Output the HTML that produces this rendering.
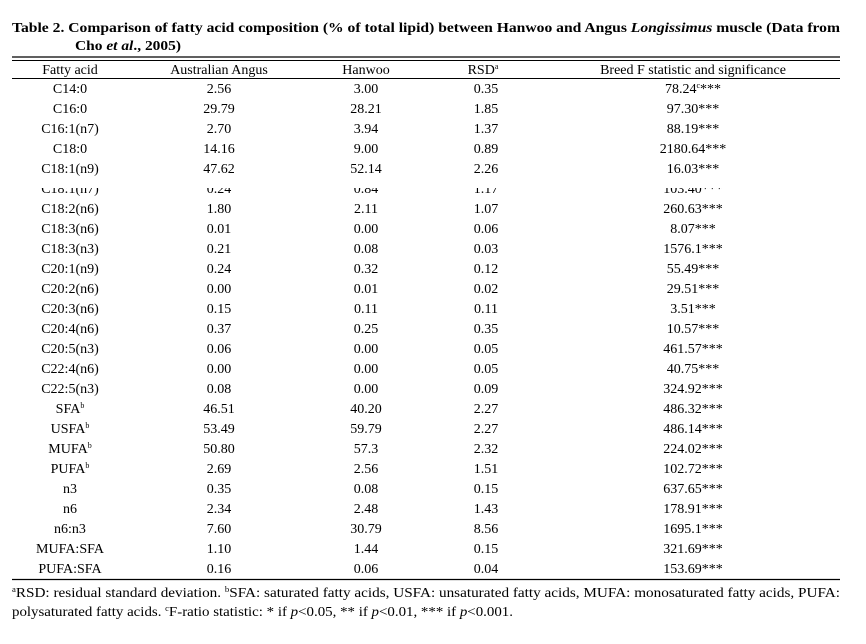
<!DOCTYPE html>
<html><head><meta charset="utf-8"><style>
body{margin:0;background:#fff;}
svg{display:block;font-family:"Liberation Serif",serif;}
</style></head><body>
<svg width="866" height="644" viewBox="0 0 866 644">
<g font-weight="bold" font-size="14">
<text x="12" y="32" textLength="828" lengthAdjust="spacingAndGlyphs">Table  2.  Comparison of fatty acid composition (% of total lipid) between Hanwoo and Angus <tspan font-style="italic">Longissimus</tspan> muscle (Data from</text>
<text x="75" y="50" textLength="106" lengthAdjust="spacingAndGlyphs">Cho <tspan font-style="italic">et al</tspan>., 2005)</text>
</g>
<g stroke="#000">
<line x1="12" x2="840" y1="57" y2="57" stroke-width="1.3"/>
<line x1="12" x2="840" y1="60.5" y2="60.5" stroke-width="1"/>
<line x1="12" x2="840" y1="78.5" y2="78.5" stroke-width="1"/>
<line x1="12" x2="840" y1="579.5" y2="579.5" stroke-width="1.3"/>
</g>
<g id="hdr" font-size="14" text-anchor="middle">
<text x="70" y="74">Fatty acid</text>
<text x="219" y="74">Australian Angus</text>
<text x="366" y="74">Hanwoo</text>
<text x="483" y="74">RSD<tspan font-size="8" dy="-5">a</tspan></text>
<text x="693" y="74">Breed F statistic and significance</text>
</g>
<g id="body" font-size="14" text-anchor="middle"></g>
<rect x="0" y="178" width="866" height="10" fill="#fff"/>
<g font-size="14">
<text x="12" y="597" textLength="828" lengthAdjust="spacingAndGlyphs"><tspan font-size="8" dy="-5">a</tspan><tspan dy="5">RSD: residual standard deviation. </tspan><tspan font-size="8" dy="-5">b</tspan><tspan dy="5">SFA: saturated fatty acids, USFA: unsaturated fatty acids, MUFA: monosaturated fatty acids, PUFA:</tspan></text>
<text x="12" y="616" textLength="501" lengthAdjust="spacingAndGlyphs">polysaturated fatty acids. <tspan font-size="8" dy="-5">c</tspan><tspan dy="5">F-ratio statistic: * if </tspan><tspan font-style="italic">p</tspan>&lt;0.05, ** if <tspan font-style="italic">p</tspan>&lt;0.01, *** if <tspan font-style="italic">p</tspan>&lt;0.001.</text>
</g>
</svg>
<script>
const acids=["C14:0","C16:0","C16:1(n7)","C18:0","C18:1(n9)","C18:1(n7)","C18:2(n6)","C18:3(n6)","C18:3(n3)","C20:1(n9)","C20:2(n6)","C20:3(n6)","C20:4(n6)","C20:5(n3)","C22:4(n6)","C22:5(n3)","SFA","USFA","MUFA","PUFA","n3","n6","n6:n3","MUFA:SFA","PUFA:SFA"];
const supB=[16,17,18,19];
const angus=["2.56","29.79","2.70","14.16","47.62","0.24","1.80","0.01","0.21","0.24","0.00","0.15","0.37","0.06","0.00","0.08","46.51","53.49","50.80","2.69","0.35","2.34","7.60","1.10","0.16"];
const hanwoo=["3.00","28.21","3.94","9.00","52.14","0.84","2.11","0.00","0.08","0.32","0.01","0.11","0.25","0.00","0.00","0.00","40.20","59.79","57.3","2.56","0.08","2.48","30.79","1.44","0.06"];
const rsd=["0.35","1.85","1.37","0.89","2.26","1.17","1.07","0.06","0.03","0.12","0.02","0.11","0.35","0.05","0.05","0.09","2.27","2.27","2.32","1.51","0.15","1.43","8.56","0.15","0.04"];
const fstat=["78.24","97.30","88.19","2180.64","16.03","103.40","260.63","8.07","1576.1","55.49","29.51","3.51","10.57","461.57","40.75","324.92","486.32","486.14","224.02","102.72","637.65","178.91","1695.1","321.69","153.69"];
const NS="http://www.w3.org/2000/svg";
const body=document.getElementById('body');
const cols=[70,219,366,486,693];
acids.forEach((a,i)=>{
  const y=93+i*20;
  const g=document.createElementNS(NS,'g');
  
  
  const vals=[a,angus[i],hanwoo[i],rsd[i],fstat[i]];
  vals.forEach((v,j)=>{
    const t=document.createElementNS(NS,'text');
    t.setAttribute('x',cols[j]);t.setAttribute('y',y);
    if(j===0&&supB.includes(i)){t.innerHTML=v+'<tspan font-size="8" dy="-5">b</tspan>';}
    else if(j===4&&i===0){t.innerHTML=v+'<tspan font-size="8" dy="-5">c</tspan><tspan dy="5">***</tspan>';}
    else if(j===4){t.textContent=v+'***';}
    else t.textContent=v;
    g.appendChild(t);
  });
  body.appendChild(g);
});
</script>
</body></html>
